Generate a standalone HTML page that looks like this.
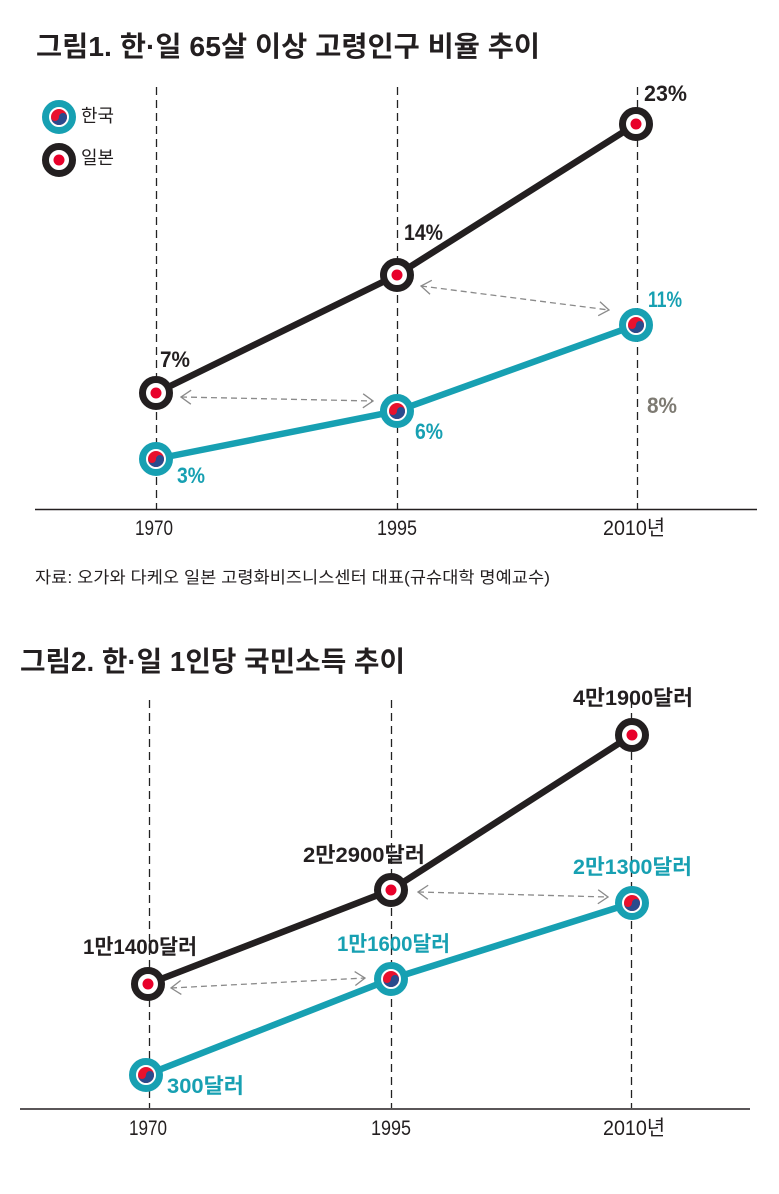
<!DOCTYPE html>
<html>
<head>
<meta charset="utf-8">
<style>
html,body{margin:0;padding:0;background:#fff;}
svg{display:block;}
text{font-family:"Liberation Sans","Noto Sans CJK KR",sans-serif;}
</style>
</head>
<body>
<svg width="779" height="1194" viewBox="0 0 779 1194" xmlns="http://www.w3.org/2000/svg">
<defs>
  <g id="jp">
    <circle r="13.5" fill="#fff" stroke="#231f20" stroke-width="7"/>
    <circle r="5.5" fill="#e8002a"/>
  </g>
  <g id="kr">
    <circle r="13.5" fill="#fff" stroke="#17a0b2" stroke-width="7"/>
    <circle r="8" fill="#e8112d"/>
    <path d="M-8,0 A8,8 0 0 0 8,0 A4,4 0 0 0 0,0 A4,4 0 0 1 -8,0 Z" fill="#2a4b8d"/>
  </g>
  <marker id="ah" viewBox="0 0 12 16" refX="11" refY="8" markerWidth="12" markerHeight="16" markerUnits="userSpaceOnUse" orient="auto-start-reverse">
    <path d="M1,1 L11,8 L1,15" fill="none" stroke="#8a8a8a" stroke-width="1.3"/>
  </marker>
</defs>

<!-- ===== Chart 1 ===== -->
<text x="36" y="56" font-size="28" font-weight="bold" fill="#231f20" textLength="504" lengthAdjust="spacingAndGlyphs">그림1. 한·일 65살 이상 고령인구 비율 추이</text>

<!-- legend -->
<use href="#kr" x="59" y="117"/>
<text x="81" y="122" font-size="18" fill="#231f20" textLength="33" lengthAdjust="spacingAndGlyphs">한국</text>
<use href="#jp" x="59" y="160"/>
<text x="81" y="164" font-size="18" fill="#231f20" textLength="33" lengthAdjust="spacingAndGlyphs">일본</text>

<!-- dashed verticals -->
<g stroke="#222" stroke-width="1.3" stroke-dasharray="8 5">
  <line x1="156.5" y1="87" x2="156.5" y2="509"/>
  <line x1="397.5" y1="87" x2="397.5" y2="509"/>
  <line x1="637.5" y1="87" x2="637.5" y2="509"/>
</g>
<line x1="35" y1="509.5" x2="757" y2="509.5" stroke="#231f20" stroke-width="1.5"/>

<!-- arrows -->
<g stroke="#8a8a8a" stroke-width="1.3" stroke-dasharray="6 4" fill="none">
  <line x1="181" y1="397" x2="373" y2="401" marker-start="url(#ah)" marker-end="url(#ah)"/>
  <line x1="421" y1="286" x2="609" y2="310" marker-start="url(#ah)" marker-end="url(#ah)"/>
</g>

<!-- series lines -->
<polyline points="156,393 397,275 636,124" fill="none" stroke="#231f20" stroke-width="6.5" stroke-linejoin="round"/>
<polyline points="156,459 397,411 636,325" fill="none" stroke="#17a0b2" stroke-width="6.5" stroke-linejoin="round"/>

<use href="#jp" x="156" y="393"/>
<use href="#jp" x="397" y="275"/>
<use href="#jp" x="636" y="124"/>
<use href="#kr" x="156" y="459"/>
<use href="#kr" x="397" y="411"/>
<use href="#kr" x="636" y="325"/>

<!-- value labels -->
<g font-size="22" font-weight="bold">
  <text x="160" y="367" fill="#231f20" textLength="30" lengthAdjust="spacingAndGlyphs">7%</text>
  <text x="404" y="240" fill="#231f20" textLength="39" lengthAdjust="spacingAndGlyphs">14%</text>
  <text x="644" y="101" fill="#231f20" textLength="43" lengthAdjust="spacingAndGlyphs">23%</text>
  <text x="648" y="307" fill="#17a0b2" textLength="34" lengthAdjust="spacingAndGlyphs">11%</text>
  <text x="415" y="439" fill="#17a0b2" textLength="28" lengthAdjust="spacingAndGlyphs">6%</text>
  <text x="177" y="483" fill="#17a0b2" textLength="28" lengthAdjust="spacingAndGlyphs">3%</text>
  <text x="647" y="413" fill="#7d7a72" textLength="30" lengthAdjust="spacingAndGlyphs">8%</text>
</g>

<!-- year labels -->
<g font-size="21" fill="#231f20">
  <text x="135" y="535" textLength="38" lengthAdjust="spacingAndGlyphs">1970</text>
  <text x="377" y="535" textLength="40" lengthAdjust="spacingAndGlyphs">1995</text>
  <text x="603" y="535" textLength="62" lengthAdjust="spacingAndGlyphs">2010년</text>
</g>

<text x="35" y="583" font-size="16.5" fill="#231f20" textLength="515" lengthAdjust="spacingAndGlyphs">자료: 오가와 다케오 일본 고령화비즈니스센터 대표(규슈대학 명예교수)</text>

<!-- ===== Chart 2 ===== -->
<text x="20" y="671" font-size="28" font-weight="bold" fill="#231f20" textLength="385" lengthAdjust="spacingAndGlyphs">그림2. 한·일 1인당 국민소득 추이</text>

<g stroke="#222" stroke-width="1.3" stroke-dasharray="8 5">
  <line x1="149.5" y1="700" x2="149.5" y2="1108"/>
  <line x1="391.5" y1="700" x2="391.5" y2="1108"/>
  <line x1="631.5" y1="700" x2="631.5" y2="1108"/>
</g>
<line x1="20" y1="1109" x2="750" y2="1109" stroke="#231f20" stroke-width="1.5"/>

<g stroke="#8a8a8a" stroke-width="1.3" stroke-dasharray="6 4" fill="none">
  <line x1="171" y1="988" x2="365" y2="978" marker-start="url(#ah)" marker-end="url(#ah)"/>
  <line x1="418" y1="892" x2="608" y2="897" marker-start="url(#ah)" marker-end="url(#ah)"/>
</g>

<polyline points="148,984 391,890 632,735" fill="none" stroke="#231f20" stroke-width="6.5" stroke-linejoin="round"/>
<polyline points="146,1075 391,979 632,903" fill="none" stroke="#17a0b2" stroke-width="6.5" stroke-linejoin="round"/>

<use href="#jp" x="148" y="984"/>
<use href="#jp" x="391" y="890"/>
<use href="#jp" x="632" y="735"/>
<use href="#kr" x="146" y="1075"/>
<use href="#kr" x="391" y="979"/>
<use href="#kr" x="632" y="903"/>

<g font-size="21" font-weight="bold">
  <text x="573" y="705" fill="#231f20" textLength="120" lengthAdjust="spacingAndGlyphs">4만1900달러</text>
  <text x="303" y="862" fill="#231f20" textLength="122" lengthAdjust="spacingAndGlyphs">2만2900달러</text>
  <text x="83" y="954" fill="#231f20" textLength="114" lengthAdjust="spacingAndGlyphs">1만1400달러</text>
  <text x="337" y="951" fill="#17a0b2" textLength="113" lengthAdjust="spacingAndGlyphs">1만1600달러</text>
  <text x="573" y="874" fill="#17a0b2" textLength="119" lengthAdjust="spacingAndGlyphs">2만1300달러</text>
  <text x="167" y="1093" fill="#17a0b2" textLength="77" lengthAdjust="spacingAndGlyphs">300달러</text>
</g>

<g font-size="21" fill="#231f20">
  <text x="129" y="1135" textLength="38" lengthAdjust="spacingAndGlyphs">1970</text>
  <text x="371" y="1135" textLength="40" lengthAdjust="spacingAndGlyphs">1995</text>
  <text x="603" y="1135" textLength="62" lengthAdjust="spacingAndGlyphs">2010년</text>
</g>
</svg>
</body>
</html>
